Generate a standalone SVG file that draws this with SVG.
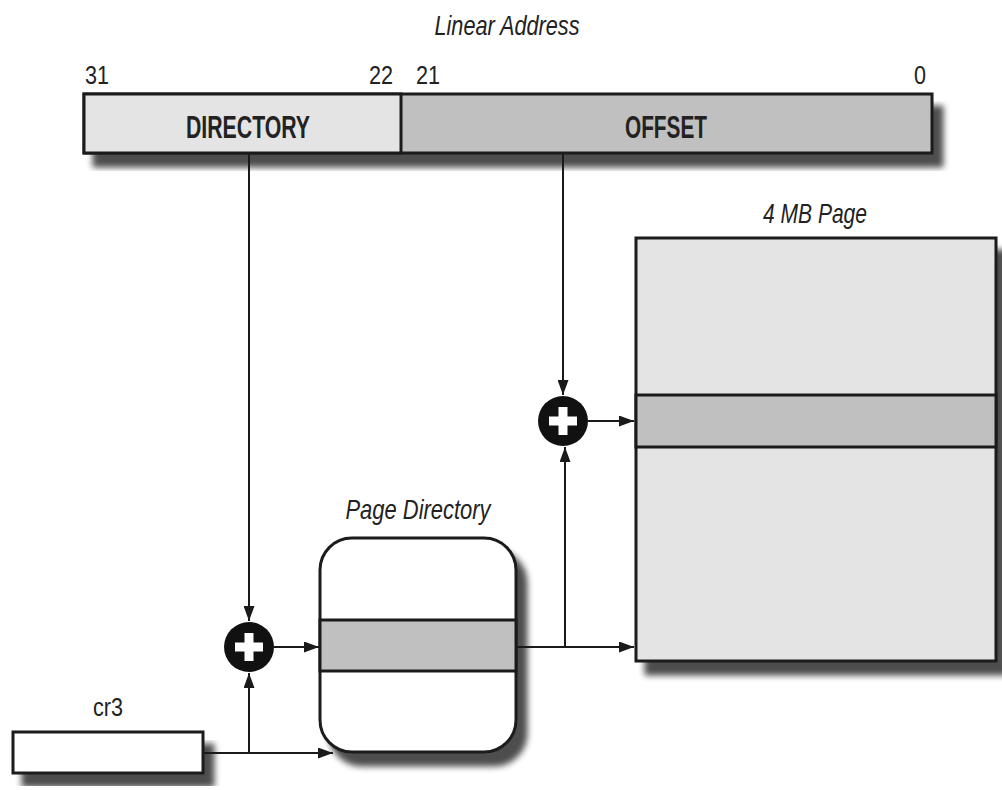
<svg xmlns="http://www.w3.org/2000/svg" width="1002" height="790" viewBox="0 0 1002 790">
<style>
.lbl{font-family:"Liberation Sans",Arial,sans-serif;fill:#222;}
.it{font-style:italic;font-size:28px;}
.num{font-size:26px;}
.bold{font-weight:bold;font-size:31px;}
.box{stroke:#1a1a1a;stroke-width:3;}
.conn{stroke:#1a1a1a;stroke-width:2;fill:none;}
</style>
<defs>
<filter id="sh" x="-10%" y="-10%" width="130%" height="140%">
<feGaussianBlur in="SourceAlpha" stdDeviation="3" result="b"/>
<feOffset in="b" dx="10" dy="13" result="o"/>
<feComponentTransfer in="o" result="c"><feFuncA type="linear" slope="0.7"/></feComponentTransfer>
<feMerge><feMergeNode in="c"/><feMergeNode in="SourceGraphic"/></feMerge>
</filter>
<marker id="ah" viewBox="0 0 15 11" refX="15" refY="5.5" markerWidth="15" markerHeight="11" markerUnits="userSpaceOnUse" orient="auto">
<path d="M0,0 L15,5.5 L0,11 z" fill="#1a1a1a"/>
</marker>
<g id="plusSym">
<circle cx="0" cy="0" r="25" fill="#111"/>
<rect x="-14" y="-4.5" width="28" height="9" fill="#fff"/>
<rect x="-4.5" y="-14" width="9" height="28" fill="#fff"/>
</g>
</defs>
<rect width="1002" height="790" fill="#fff"/>

<text class="lbl it" x="507" y="35" text-anchor="middle" textLength="145" lengthAdjust="spacingAndGlyphs">Linear Address</text>

<g id="linear-address">
<g filter="url(#sh)">
<rect x="84" y="94" width="848" height="59" fill="#c0c0c0" class="box"/>
</g>
<rect x="84" y="94" width="317" height="59" fill="#e4e4e4" class="box"/>
<text class="lbl num" x="85" y="84" textLength="24" lengthAdjust="spacingAndGlyphs">31</text>
<text class="lbl num" x="393" y="84" text-anchor="end" textLength="24" lengthAdjust="spacingAndGlyphs">22</text>
<text class="lbl num" x="416" y="84" textLength="24" lengthAdjust="spacingAndGlyphs">21</text>
<text class="lbl num" x="926" y="84" text-anchor="end" textLength="12" lengthAdjust="spacingAndGlyphs">0</text>
<text class="lbl bold" x="248" y="138" text-anchor="middle" textLength="124" lengthAdjust="spacingAndGlyphs">DIRECTORY</text>
<text class="lbl bold" x="666" y="138" text-anchor="middle" textLength="82" lengthAdjust="spacingAndGlyphs">OFFSET</text>
</g>

<g id="page-4mb">
<text class="lbl it" x="815" y="223" text-anchor="middle" textLength="104" lengthAdjust="spacingAndGlyphs">4 MB Page</text>
<rect x="636" y="238" width="360" height="423" fill="#e4e4e4" class="box" filter="url(#sh)"/>
<rect x="636" y="395" width="360" height="52" fill="#c0c0c0" class="box"/>
</g>

<g id="page-directory">
<text class="lbl it" x="418" y="519" text-anchor="middle" textLength="145" lengthAdjust="spacingAndGlyphs">Page Directory</text>
<rect x="320" y="538" width="196" height="214" rx="32" ry="32" fill="#fff" class="box" filter="url(#sh)"/>
<rect x="320" y="620" width="196" height="51" fill="#c0c0c0" class="box"/>
</g>

<g id="cr3">
<text class="lbl" x="108" y="716" text-anchor="middle" font-size="26" textLength="30" lengthAdjust="spacingAndGlyphs">cr3</text>
<rect x="13" y="732" width="190" height="41" fill="#fff" class="box" filter="url(#sh)"/>
</g>

<g id="plus-dir"><use href="#plusSym" x="249" y="647"/></g>
<g id="plus-offset"><use href="#plusSym" x="563" y="421"/></g>

<g id="connectors">
<path class="conn" d="M249,153 V621" marker-end="url(#ah)"/>
<path class="conn" d="M563,153 V395" marker-end="url(#ah)"/>
<path class="conn" d="M274,647 H319" marker-end="url(#ah)"/>
<path class="conn" d="M588,421 H634" marker-end="url(#ah)"/>
<path class="conn" d="M203,753 H333" marker-end="url(#ah)"/>
<path class="conn" d="M249,753 V673" marker-end="url(#ah)"/>
<path class="conn" d="M516,647 H634" marker-end="url(#ah)"/>
<path class="conn" d="M565,647 V447" marker-end="url(#ah)"/>
</g>
</svg>
